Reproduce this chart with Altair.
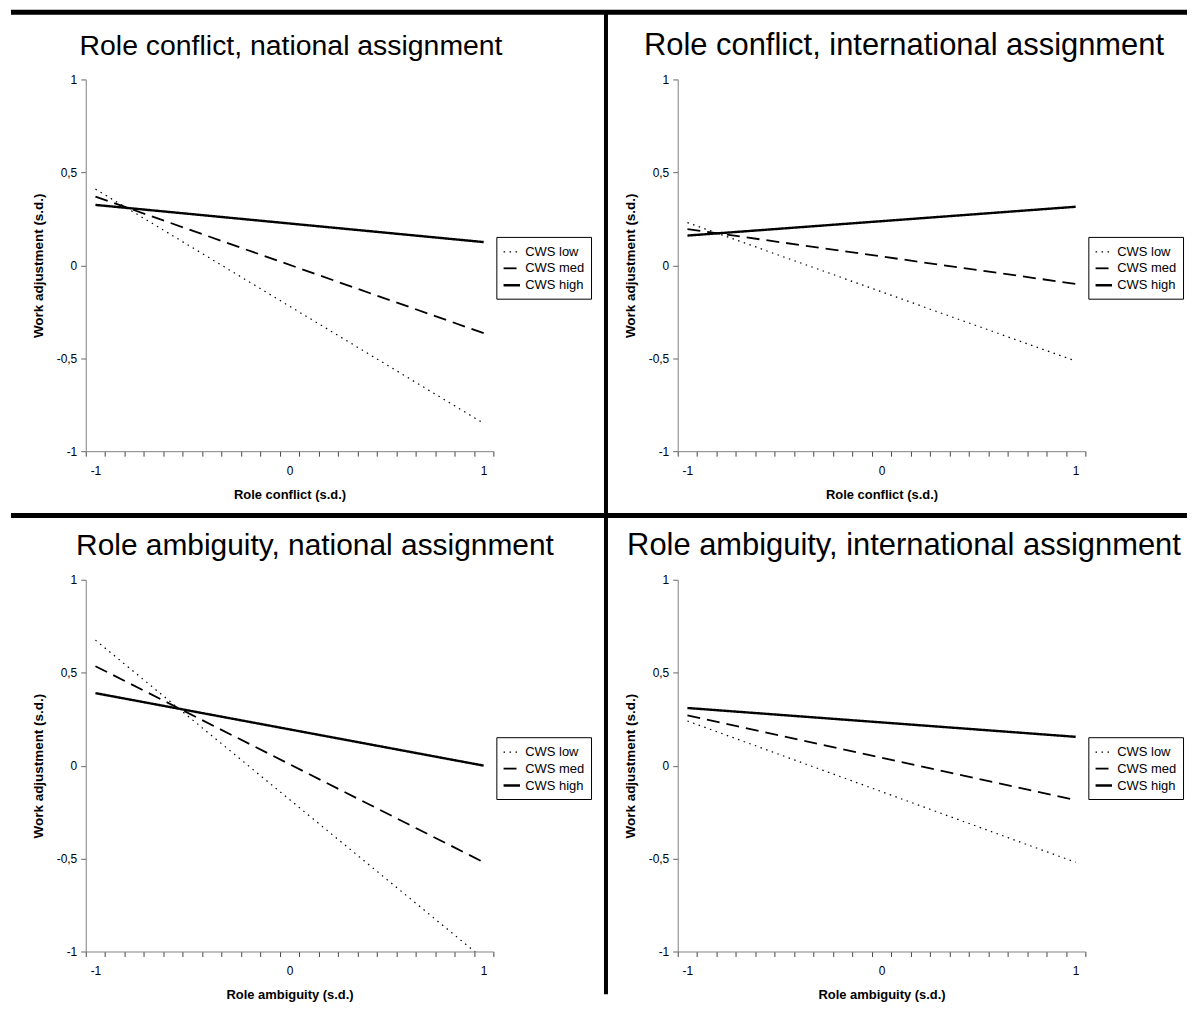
import altair as alt
import pandas as pd

FONT = "Liberation Sans"

titles = [
    "Role conflict, national assignment",
    "Role conflict, international assignment",
    "Role ambiguity, national assignment",
    "Role ambiguity, international assignment",
]
x_titles = [
    "Role conflict (s.d.)",
    "Role conflict (s.d.)",
    "Role ambiguity (s.d.)",
    "Role ambiguity (s.d.)",
]
y_title = "Work adjustment (s.d.)"
series = ["CWS low", "CWS med", "CWS high"]
x_points = [-1, 1]

# values at x = -1 and x = 1 for each series (low, med, high)
p1_low = [0.41, -0.85]
p1_med = [0.37, -0.365]
p1_high = [0.325, 0.125]

p2_low = [0.23, -0.515]
p2_med = [0.195, -0.10]
p2_high = [0.16, 0.315]

p3_low = [0.675, -1.04]
p3_med = [0.535, -0.52]
p3_high = [0.39, 0.0]

p4_low = [0.24, -0.52]
p4_med = [0.27, -0.185]
p4_high = [0.31, 0.155]

panels_vals = [
    [p1_low, p1_med, p1_high],
    [p2_low, p2_med, p2_high],
    [p3_low, p3_med, p3_high],
    [p4_low, p4_med, p4_high],
]

y_ticks = [-1, -0.5, 0, 0.5, 1]
x_ticks = [round(-1.05 + 0.1 * k, 2) for k in range(22)]

W, H = 409, 373
label_shift = W * 0.05 / 2.1

title_sizes = [28.5, 31, 30, 31]
title_centers = [206, 227, 230, 227]

x_label_expr = (
    "abs(datum.value + 1.05) < 0.001 ? '-1' : "
    "abs(datum.value + 0.05) < 0.001 ? '0' : "
    "abs(datum.value - 0.95) < 0.001 ? '1' : ''"
)
y_label_expr = "(datum.value < 0 ? '-' : '') + replace(format(abs(datum.value), '~g'), '.', ',')"


def panel(idx):
    rows = []
    for s, v in zip(series, panels_vals[idx]):
        for x, y in zip(x_points, v):
            rows.append({"x": x, "y": y, "series": s})
    df = pd.DataFrame(rows)

    legend = alt.Legend(
        title=None,
        orient="none",
        legendX=W + 3,
        legendY=158,
        strokeColor="black",
        fillColor="white",
        padding=6,
        rowPadding=0,
        labelFont=FONT,
        labelFontSize=13,
        labelColor="black",
        symbolType="stroke",
        symbolSize=272,
        symbolStrokeColor="black",
        labelOffset=4,
    )

    lines = alt.Chart(df).mark_line(clip=True, color="black").encode(
        x=alt.X(
            "x:Q",
            scale=alt.Scale(domain=[-1.05, 1.05], nice=False, zero=False),
            axis=alt.Axis(
                values=x_ticks,
                title=x_titles[idx],
                labelExpr=x_label_expr,
                labelOffset=label_shift,
                labelFlush=False,
                labelOverlap=False,
                labelBound=False,
                grid=False,
                tickSize=5,
                tickColor="#444444",
                domainColor="#808080",
                labelPadding=9,
                labelFont=FONT,
                labelFontSize=12,
                labelColor="black",
                titleFont=FONT,
                titleFontSize=13,
                titleFontWeight="bold",
                titleColor="black",
                titlePadding=12,
            ),
        ),
        y=alt.Y(
            "y:Q",
            scale=alt.Scale(domain=[-1, 1], nice=False, zero=False),
            axis=alt.Axis(
                values=y_ticks,
                title=y_title,
                labelExpr=y_label_expr,
                labelFlush=False,
                labelOverlap=False,
                labelBound=False,
                grid=False,
                tickSize=5,
                tickColor="#666666",
                domainColor="#808080",
                labelPadding=4,
                labelFont=FONT,
                labelFontSize=12,
                labelColor="black",
                titleFont=FONT,
                titleFontSize=13.5,
                titleFontWeight="bold",
                titleColor="black",
                titlePadding=11,
            ),
        ),
        strokeDash=alt.StrokeDash(
            "series:N",
            scale=alt.Scale(domain=series, range=[[1.5, 4.5], [13, 7], [1, 0]]),
            legend=legend,
        ),
        strokeWidth=alt.StrokeWidth(
            "series:N",
            scale=alt.Scale(domain=series, range=[1.2, 2.4, 2.0]),
            legend=legend,
        ),
    )

    tdf = pd.DataFrame({"t": [titles[idx]]})
    title = alt.Chart(tdf).mark_text(
        font=FONT, fontSize=title_sizes[idx], baseline="alphabetic", align="center", color="black"
    ).encode(x=alt.value(title_centers[idx]), y=alt.value(-25), text="t:N")

    layers = [lines, title]
    if idx == 0:
        top = alt.Chart(tdf).mark_rule(color="black", strokeWidth=5).encode(
            x=alt.value(-75), x2=alt.value(1105), y=alt.value(-67.5)
        )
        mid = alt.Chart(tdf).mark_rule(color="black", strokeWidth=5).encode(
            x=alt.value(-75), x2=alt.value(1105), y=alt.value(437.5)
        )
        vert = alt.Chart(tdf).mark_rule(color="black", strokeWidth=4).encode(
            x=alt.value(522), y=alt.value(-67), y2=alt.value(918)
        )
        layers += [top, mid, vert]
    return alt.layer(*layers).properties(width=W, height=H)


chart = (
    alt.concat(panel(0), panel(1), panel(2), panel(3), columns=2)
    .properties(spacing={"row": 129, "column": 185}, bounds="flush", padding=0)
    .resolve_scale(strokeDash="independent", strokeWidth="independent")
    .resolve_legend(strokeDash="independent", strokeWidth="independent")
    .configure_view(stroke=None)
)

chart.save("out.html", embed_options={"renderer": "svg", "actions": False})
